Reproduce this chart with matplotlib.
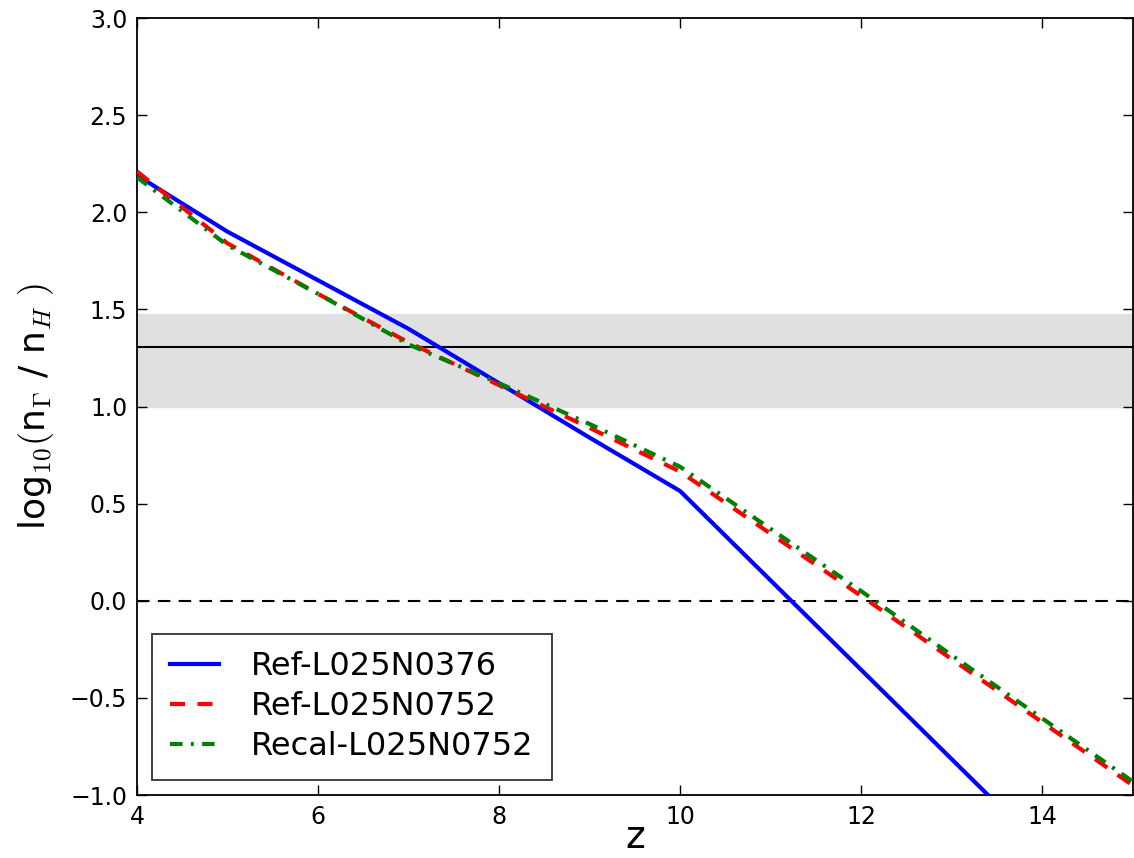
import matplotlib
matplotlib.use("Agg")
import matplotlib.pyplot as plt

plt.rcParams['mathtext.fontset'] = 'cm'

z = [4, 5, 6, 7, 8, 9, 10, 11, 12, 13, 14, 15]
ref376 = [2.19, 1.90, 1.65, 1.40, 1.12, 0.84, 0.565, 0.105, -0.355, -0.815, -1.275, -1.735]
ref752 = [2.21, 1.84, 1.58, 1.33, 1.11, 0.89, 0.665, 0.345, 0.025, -0.30, -0.625, -0.95]
recal752 = [2.18, 1.83, 1.58, 1.32, 1.12, 0.91, 0.69, 0.37, 0.05, -0.28, -0.605, -0.93]
band_lo, band_mid, band_hi = 1.0, 1.305, 1.475
labels = ["Ref-L025N0376", "Ref-L025N0752", "Recal-L025N0752"]

fig = plt.figure(figsize=(11.34, 8.58), dpi=100)
ax = fig.add_axes([0.1208, 0.0734, 0.878, 0.9056])

ax.axhspan(band_lo, band_hi, color='#e0e0e0', zorder=0)
ax.axhline(band_mid, color='black', lw=1.5, zorder=1)
ax.axhline(0.0, color='black', lw=1.5, ls=(0, (6, 4)), zorder=1)

ax.plot(z, ref376, color='blue', lw=3, label=labels[0], zorder=3)
ax.plot(z, ref752, color='red', lw=3, ls=(0, (3.6, 3)), label=labels[1], zorder=3)
ax.plot(z, recal752, color='green', lw=3, ls=(0, (3, 2, 0.7, 2)), label=labels[2], zorder=4)

ax.set_xlim(4, 15)
ax.set_ylim(-1.0, 3.0)
ax.set_xticks([4, 6, 8, 10, 12, 14])
ax.set_yticks([-1.0, -0.5, 0.0, 0.5, 1.0, 1.5, 2.0, 2.5, 3.0])
ax.tick_params(direction='in', top=True, right=True, length=7, width=1, labelsize=17, pad=7)
for s in ax.spines.values():
    s.set_linewidth(1.3)

ax.set_xlabel('z', fontsize=27, labelpad=-6)
ax.set_ylabel(r'log$_{10}($n$_\Gamma$ / n$_H\ )$', fontsize=26, labelpad=10)

leg = ax.legend(loc='lower left', fontsize=23, frameon=True, fancybox=False,
                edgecolor='black', handlelength=1.55, borderpad=0.55, labelspacing=0.28,
                handletextpad=1.0, borderaxespad=0.48)
leg.get_frame().set_linewidth(1.3)

fig.savefig('out.png', dpi=100)
